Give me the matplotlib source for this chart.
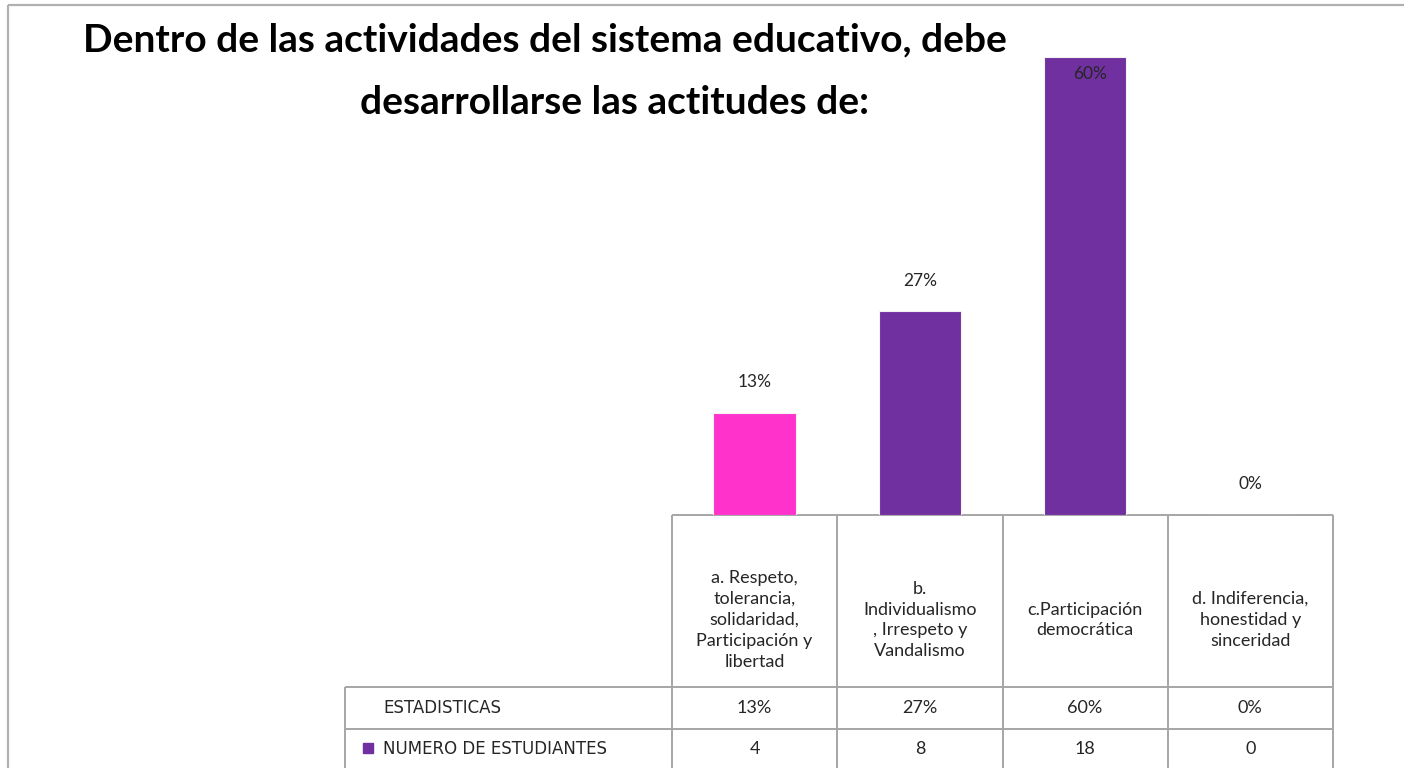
import matplotlib.pyplot as plt
import matplotlib.patches as mpatches

# data
categorias = [
    "a. Respeto,\ntolerancia,\nsolidaridad,\nParticipación y\nlibertad",
    "b.\nIndividualismo\n, Irrespeto y\nVandalismo",
    "c.Participación\ndemocrática",
    "d. Indiferencia,\nhonestidad y\nsinceridad",
]
estudiantes = [4, 8, 18, 0]
porcentajes = [13, 27, 60, 0]
colores = ["#FF33CC", "#7030A0", "#7030A0", "#7030A0"]
fila_pct = "ESTADISTICAS"
fila_num = "NUMERO DE ESTUDIANTES"
titulo_1 = "Dentro de las actividades del sistema educativo, debe"
titulo_2 = "desarrollarse las actitudes de:"

W, H = 1404, 768
plt.rcParams['font.family'] = ['Lato', 'DejaVu Sans']
fig = plt.figure(figsize=(W / 100, H / 100), dpi=100)
fig.patch.set_facecolor('white')

# layout in pixels
x_left, x_right = 672, 1333
y_top, y_base = 57, 515
y_head, y_row1, y_row2 = 687, 729, 772
x_tab = 345
grid_c = '#a6a6a6'
txt_c = '#262626'

# overlay in pixel coordinates for frame, title and table
ov = fig.add_axes([0, 0, 1, 1])
ov.set_xlim(0, W)
ov.set_ylim(H, 0)
ov.axis('off')
ov.add_patch(mpatches.Rectangle((8, 5), W + 20, H + 20, fill=False,
                                edgecolor='#b0b0b0', lw=1.6))

ax = fig.add_axes([x_left / W, 1 - y_base / H,
                   (x_right - x_left) / W, (y_base - y_top) / H])
total = sum(estudiantes)
fracs = [e / total for e in estudiantes]
x = range(len(categorias))
bars = ax.bar(x, fracs, width=0.5, color=colores, edgecolor='#f2f2f2', lw=0.8)
ax.set_xlim(-0.5, len(categorias) - 0.5)
ax.set_ylim(0, max(fracs))
ax.axis('off')

for b, p in zip(bars, porcentajes):
    cx = b.get_x() + b.get_width() / 2
    h = b.get_height()
    if h >= max(fracs):
        # no room above the tallest bar, label goes inside
        ax.text(cx + 0.03, h - 0.012, f"{p}%", ha='center', va='top',
                fontsize=12.5, color=txt_c, clip_on=False)
    else:
        ax.text(cx, h + 0.03, f"{p}%", ha='center', va='bottom',
                fontsize=12.5, color=txt_c, clip_on=False)

# title
ov.text(545, 40, titulo_1, ha='center', va='center', fontsize=28,
        fontweight='bold', color='black')
ov.text(614, 102, titulo_2, ha='center', va='center', fontsize=28,
        fontweight='bold', color='black')

# data table
n = len(categorias)
col_w = (x_right - x_left) / n
edges = [x_left + i * col_w for i in range(n + 1)]
lk = dict(color=grid_c, lw=1.4, solid_capstyle='butt')
ov.plot([x_left, x_right], [y_base, y_base], **lk)
ov.plot([x_tab, x_right], [y_head, y_head], **lk)
ov.plot([x_tab, x_right], [y_row1, y_row1], **lk)
ov.plot([x_tab, x_tab], [y_head, y_row2], **lk)
for ex in edges:
    ov.plot([ex, ex], [y_base, y_row2], **lk)

for i, cat in enumerate(categorias):
    cx = (edges[i] + edges[i + 1]) / 2
    ov.text(cx, 620, cat, ha='center', va='center', fontsize=13,
            color=txt_c, linespacing=1.38)
    ov.text(cx, (y_head + y_row1) / 2, f"{porcentajes[i]}%", ha='center',
            va='center', fontsize=13, color=txt_c)
    ov.text(cx, (y_row1 + H) / 2 + 1, str(estudiantes[i]), ha='center',
            va='center', fontsize=13, color=txt_c)

ov.text(383, (y_head + y_row1) / 2, fila_pct, ha='left', va='center',
        fontsize=12, color=txt_c, family='DejaVu Sans')
ov.add_patch(mpatches.Rectangle((363, 743), 10, 10, color='#7030A0'))
ov.text(383, (y_row1 + H) / 2 + 1, fila_num, ha='left', va='center',
        fontsize=12, color=txt_c, family='DejaVu Sans')

fig.savefig('out.png', dpi=100)
